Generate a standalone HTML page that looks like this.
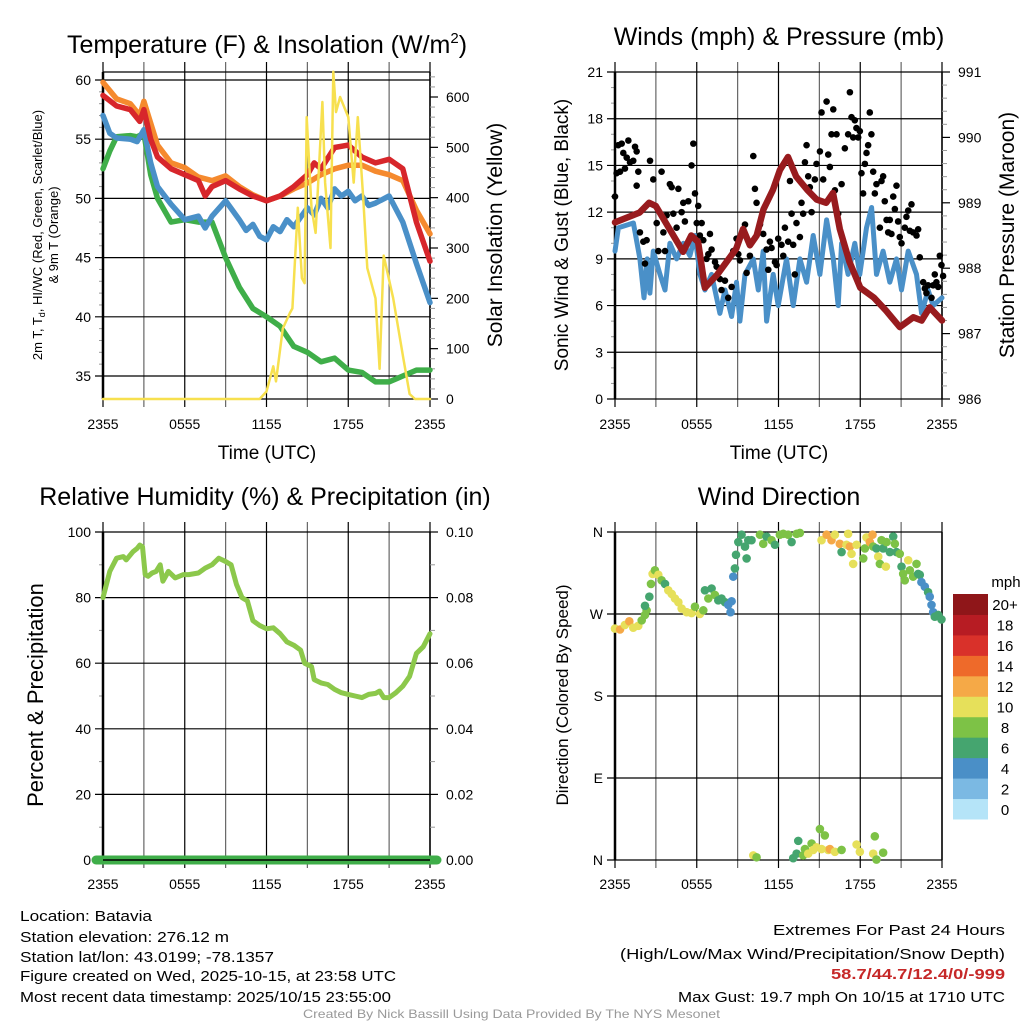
<!DOCTYPE html>
<html><head><meta charset="utf-8"><style>
html,body{margin:0;padding:0;background:#fff;}
svg{display:block;font-family:"Liberation Sans",sans-serif;}
</style></head><body>
<svg id="c" width="1024" height="1024" viewBox="0 0 1024 1024" xmlns="http://www.w3.org/2000/svg">
<g id="g"></g>
<g font-size="15" fill="#000">
<text x="20" y="921" textLength="132" lengthAdjust="spacingAndGlyphs">Location: Batavia</text>
<text x="20" y="942" textLength="209" lengthAdjust="spacingAndGlyphs">Station elevation: 276.12 m</text>
<text x="20" y="962" textLength="254" lengthAdjust="spacingAndGlyphs">Station lat/lon: 43.0199; -78.1357</text>
<text x="20" y="981" textLength="376" lengthAdjust="spacingAndGlyphs">Figure created on Wed, 2025-10-15, at 23:58 UTC</text>
<text x="20" y="1002" textLength="371" lengthAdjust="spacingAndGlyphs">Most recent data timestamp: 2025/10/15 23:55:00</text>
<text x="773" y="935" textLength="232" lengthAdjust="spacingAndGlyphs">Extremes For Past 24 Hours</text>
<text x="620" y="959" textLength="385" lengthAdjust="spacingAndGlyphs">(High/Low/Max Wind/Precipitation/Snow Depth)</text>
<text x="831" y="979" textLength="174" lengthAdjust="spacingAndGlyphs" fill="#c62828" font-weight="bold">58.7/44.7/12.4/0/-999</text>
<text x="678" y="1002" textLength="327" lengthAdjust="spacingAndGlyphs">Max Gust: 19.7 mph On 10/15 at 1710 UTC</text>
<text x="303" y="1018" font-size="12" fill="#999" textLength="417" lengthAdjust="spacingAndGlyphs">Created By Nick Bassill Using Data Provided By The NYS Mesonet</text>
</g>
</svg>
<script>
// ===== Temperature panel data (hours since 2355) =====
const redT=[0,1,2,2.7,3,3.5,4,5,6,7,7.5,8,9,10,11,12,13,14,15,15.5,16,17,18,19,20,21,22,23,24];
const redV=[58.7,57.8,57.5,56.5,57.5,55,53.5,52.5,52,51.5,50.2,51,51.5,50.8,50.2,49.8,50.2,51,52,53,52.5,54.3,54.5,53.5,53,53.3,52.5,48,44.7];
const orgT=[0,1,2,2.7,3,4,5,6,7,8,9,10,11,12,13,14,15,16,17,18,19,20,21,22,23,24];
const orgV=[59.8,58.4,58,57,58.2,54.5,53,52.6,51.8,51.5,51.9,51,50.3,49.8,50.2,50.8,51.3,52,52.5,52.8,52.8,52.3,52,51.5,49,47];
const bluT=[0,0.5,1,2,2.5,3,3.5,4,5,6,7,7.5,8,9,10,10.5,11,11.5,12,12.5,13,13.5,14,14.5,15,15.5,16,16.5,17,17.5,18,18.5,19,19.5,20,21,22,23,24];
const bluV=[57,55.5,55.1,55,54.8,55.8,53,51,49.5,48.2,48.5,47.5,48.5,49.8,48.2,47.3,47.8,46.8,46.5,47.6,47.2,48.2,47.6,48.4,49.2,48.6,50,49.2,50.8,50.2,50.6,49.8,50.2,49.4,49.6,50.2,48,44.5,41.2];
const grnT=[0,0.5,1,2,2.5,3,3.5,4,5,6,7,8,9,10,11,12,13,14,15,16,17,18,19,20,21,22,23,24];
const grnV=[52.5,54,55.2,55.3,55.2,55.5,52,50,48,48.2,48,48,45,42.5,40.7,40,39.2,37.5,37,36.2,36.5,35.5,35.3,34.5,34.5,35,35.5,35.5];
const solT=[0,11.5,12,12.5,12.7,13.2,13.7,13.9,14.3,14.6,14.8,14.95,15.3,15.6,16.1,16.3,16.7,16.9,17.1,17.4,18,18.4,18.7,19.1,19.4,20,20.3,20.6,21.3,22.05,22.5,22.9,24];
const solV=[0,0,15,65,35,140,170,180,380,240,230,560,380,330,590,430,300,650,570,600,560,430,560,400,260,200,60,285,200,80,10,0,0];
// ===== Wind/pressure data =====
const wsT=[0,0.25,1.35,1.83,2.13,2.36,2.56,2.81,3.3,3.67,4.03,4.52,5.01,5.5,5.87,6.24,6.6,7.09,7.7,8.07,8.56,8.92,9.17,9.54,10.15,10.52,10.88,11.13,11.61,11.98,12.59,13.08,13.57,14.06,14.55,15.04,15.53,16.02,16.38,16.63,17.11,17.6,17.97,18.46,18.83,19.19,19.68,20.17,20.66,21.03,21.52,22.13,22.5,22.98,23.35,24];
const wsV=[9.5,11,11.3,9,6.5,9,6.8,9.5,8,7,10,9,10,9.2,10.5,8,7,8,5.5,7,5.3,7.5,5,8,9,7,9.5,5,8,6,9,6,9,7.5,10.5,8,11.5,9,6,10,8,10,8,11,12.3,8,9.5,7.5,9,7,9.5,8,5.5,7,6,6.5];
const prT=[0,1.8,2.5,3,4,5,5.6,6.1,6.6,7.5,8.2,8.9,9.4,9.9,10.4,10.9,11.6,12.1,12.7,13.3,14.1,14.8,15.5,16,16.5,17.2,18,19,19.9,20.9,21.9,22.5,23.1,24];
const prV=[988.7,988.85,989,988.95,988.6,988.25,988.5,988.4,987.7,987.9,988.1,988.3,988.6,988.35,988.5,988.9,989.2,989.5,989.7,989.4,989.2,989.05,989,989.15,988.6,988.1,987.7,987.55,987.35,987.1,987.25,987.2,987.4,987.2];
const gustT=[0,0.12,0.24,0.37,0.49,0.61,0.73,0.86,0.98,1.1,1.34,1.47,1.59,1.71,1.59,1.83,2.08,2.32,2.2,2.57,2.81,3.06,3.18,3.42,3.55,3.67,3.79,4.03,4.16,4.28,4.52,4.65,4.89,5.01,5.13,5.38,5.62,5.75,5.87,6,6.11,6.23,6.36,6.48,6.72,6.85,6.97,7.09,7.34,7.46,7.7,7.82,8.07,8.31,8.56,8.68,8.92,9.05,9.17,9.29,9.54,9.66,9.9,10.15,10.27,10.39,10.64,10.88,11.12,11.25,11.37,11.49,11.74,11.86,11.98,12.22,12.35,12.47,12.71,12.84,12.96,13.08,13.2,13.32,13.57,13.69,13.81,13.94,14.06,14.18,14.3,14.43,14.67,14.79,15.04,15.16,15.28,15.53,15.65,15.77,15.89,16.02,16.14,16.26,16.38,16.63,16.87,17.11,17.24,17.36,17.48,17.6,17.72,17.85,17.97,18.09,18.21,18.34,18.46,18.58,18.7,18.82,18.95,19.07,19.19,19.44,19.56,19.68,19.8,19.93,20.05,20.17,20.29,20.42,20.54,20.66,20.78,20.9,21.03,21.27,21.39,21.52,21.64,21.76,21.88,22.13,22.25,22.37,22.62,22.74,22.86,22.98,23.23,23.35,23.47,23.59,23.72,23.84,23.96,24.08];
const gustV=[13,14.5,16.3,14.6,16.4,15.8,14.8,15.5,16.6,15.2,15.3,16.2,15.9,14.6,13.7,10.7,10.1,10.2,8.7,15.3,14.1,11.3,9.5,14.6,10.7,9.5,11.8,13.8,13.6,11.9,11,13.5,12,12.6,11.4,12.7,15,16.4,13.2,11.3,12.4,10.5,11.3,10.2,9,9.3,10.6,9.6,8.8,8.5,7.7,7,7.6,6.5,7.2,9.5,10.3,9.3,8.9,10.5,11.2,8.1,9.2,15.6,13.5,12.6,11.2,10.6,9.6,8.3,10.1,9.7,8.8,8.6,10.3,9.9,9.2,11,10.1,14,11.9,9.9,8,11.3,10.4,12.6,11.9,15.2,16.3,14.3,13.6,12,14.1,15.1,15.9,18.4,14.1,19.1,15.7,14.9,17,18.6,13.4,17,11.9,13.8,16.1,17,19.7,18.1,16.8,17.9,17.4,16.8,17.2,14.5,13.2,15.1,15.8,16.3,18.4,17,14.6,13.2,13.8,11,14,14.3,12.7,11.5,10.7,11.5,10.6,13,12.2,13.7,11.4,10.4,10,11,11.7,12.1,10.8,12.5,10.7,10.5,10.9,9.1,7.5,7.1,6.8,7.3,6.5,7.3,8,7.5,7.2,9.2,8.6,7.9];
// ===== RH data =====
const rhT=[0,0.5,1,1.5,1.7,2.2,2.5,2.7,2.9,3.1,3.3,3.6,3.9,4.2,4.4,4.8,5.3,5.9,6.3,7,7.5,8,8.5,9,9.4,9.8,10.2,10.6,11,11.5,12,12.5,13,13.5,14,14.5,14.8,15.3,15.5,16,16.5,17,17.5,18,18.5,19,19.5,20,20.3,20.6,21,21.5,22,22.5,23,23.5,24];
const rhV=[80,88,92,92.5,91.5,94,95,96,95.5,87,86.5,87.5,88,90,85,88,86,87,87,87.5,89,90,92,91,90,84,80,79,73,71.5,70.5,70.8,69,66.5,65.5,64,60,59,55,54,53.5,52,51,50.5,50,49.5,50.5,50.8,51.5,49.5,49.5,51,53,56,63,65,69];
const prcT=[0,24];
const prcV=[0,0];
// ===== Wind direction data =====
const wdT=[0,0.37,0.73,1.05,1.34,1.71,1.96,2.2,2.32,2.2,2.52,2.64,2.76,2.93,3.18,3.42,3.67,3.91,4.16,4.4,4.65,4.89,5.26,5.62,5.87,6.23,6.48,6.6,6.85,7.09,7.33,7.58,7.82,8.07,8.31,8.48,8.56,8.68,8.8,8.88,9.05,9.29,9.54,9.66,9.78,10.02,10.64,10.88,11.12,11.49,11.74,12.1,12.35,12.71,12.96,13.33,13.57,15.16,15.53,15.89,16.14,16.5,16.63,16.99,17.11,17.24,17.36,17.48,17.73,18.22,18.34,18.46,18.7,18.9,18.95,19.19,19.32,19.44,19.56,19.68,19.88,19.93,20.17,20.42,20.54,20.66,20.9,21.03,21.15,21.27,21.52,21.64,21.88,22.13,22.25,22.37,22.49,22.74,22.98,23.1,23.23,23.35,23.47,23.72,23.96,10.15,10.39,13.08,13.33,13.45,13.81,13.94,14.18,14.43,14.55,14.79,15.04,15.16,15.4,15.65,15.77,16.14,16.63,17.73,17.97,18.95,19.07,19.19,19.68];
const wdDir=[254,253,258,262,255,257,263,269,274,279,289,303,314,318,313,307,303,296,292,287,283,276,272,271,278,270,274,296,287,298,291,285,287,283,280,272,284,311,320,335,349,357,344,331,351,351,357,347,355,351,346,357,358,357,349,358,359,351,357,351,357,347,338,346,358,344,336,325,346,331,342,354,349,357,344,342,333,325,351,342,322,349,338,355,347,338,336,322,314,307,329,318,311,325,314,313,305,300,294,289,280,272,267,269,264,5,3,2,7,21,5,12,7,18,11,14,34,12,27,11,12,9,11,17,9,7,26,0.5,8];
const wdSpd=[11,13,11,13,11,11,9,9,9,7,7,9,11,9,11,9,7,11,11,11,11,11,11,11,9,11,9,7,9,7,9,7,7,7,5,5,5,5,7,7,7,7,7,7,7,7,9,9,7,9,7,9,9,9,7,9,9,11,13,13,11,13,7,11,11,13,11,11,11,9,9,11,13,13,9,7,11,9,9,7,11,9,7,7,9,7,9,7,9,9,11,9,9,9,7,7,5,5,7,5,5,5,7,7,7,11,9,7,7,7,9,9,11,9,11,11,9,11,9,11,13,11,9,11,11,11,9,9,9];
const spdColors=["#b5e4f8","#7bb9e3","#4a8fc7","#45a56f","#7dc246","#e6e05a","#f5a947","#ee6a2a","#d9312a","#b71c23","#8f1619"];
const spdLabels=["0","2","4","6","8","10","12","14","16","18","20+"];
const xTickLabels=["2355","0555","1155","1755","2355"];

const NS="http://www.w3.org/2000/svg";
const G=document.getElementById('g');
function el(tag,attrs,parent){const e=document.createElementNS(NS,tag);for(const k in attrs)e.setAttribute(k,attrs[k]);(parent||G).appendChild(e);return e;}
function txt(s,attrs,parent){const e=el('text',attrs,parent);e.textContent=s;return e;}
function lin(d0,d1,r0,r1){return v=>r0+(v-d0)/(d1-d0)*(r1-r0);}

function panel(px,top,bottom,name){
  const x=lin(0,24,px,px+327);
  const grp=el('g',{});
  
  
  for(let h=0;h<=24;h+=3){
    const gl=el('line',{x1:x(h),x2:x(h),y1:top-10,y2:bottom+8,stroke:(h%6===0)?'#000':'#666','stroke-width':1.2},grp);
    
    
  }
  return {x,grp};
}

function leftAxis(grp,px,y,ticks,labels,minor,top,bottom){
  ticks.forEach((t,i)=>{
    const l=el('line',{x1:px-8,x2:px+327,y1:y(t),y2:y(t),stroke:'#000','stroke-width':1.2},grp);
    
    
    const tl=txt(labels[i],{x:px-12,y:y(t)+5,'text-anchor':'end','font-size':14},grp);
    
    
  });
  minor.forEach(t=>{el('line',{x1:px-4,x2:px,y1:y(t),y2:y(t),stroke:'#999','stroke-width':1},grp);});
  el('line',{x1:px,x2:px,y1:top,y2:bottom,stroke:'#000','stroke-width':2.5},grp);
  el('line',{x1:px+327,x2:px+327,y1:top,y2:bottom,stroke:'#000','stroke-width':1.5},grp);
}
function rightTicks(grp,px,y,ticks,labels,minor){
  ticks.forEach((t,i)=>{
    el('line',{x1:px+327,x2:px+335,y1:y(t),y2:y(t),stroke:'#000','stroke-width':1.2},grp);
    const tl=txt(labels[i],{x:px+343,y:y(t)+5,'font-size':14},grp);
    
    
  });
  minor.forEach(t=>{el('line',{x1:px+327,x2:px+332,y1:y(t),y2:y(t),stroke:'#999','stroke-width':1},grp);});
}
function xLabels(grp,x,yb){
  xTickLabels.forEach((s,i)=>{
    const tl=txt(s,{x:x(i*6),y:yb,'text-anchor':'middle','font-size':14},grp);
    
    
  });
}
function vtitle(s,cx,cy,size,name,rot){
  const t=txt(s,{x:0,y:0,transform:`translate(${cx},${cy}) rotate(${rot||-90})`,'text-anchor':'middle','font-size':size});
  
  
  return t;
}
function title(s,cx,y,name){
  const t=txt(s,{x:cx,y:y,'text-anchor':'middle','font-size':25});
  
  
  return t;
}
function poly(ts,vs,x,y,color,w,name,grp){
  const p=el('polyline',{points:ts.map((t,i)=>x(t).toFixed(1)+','+y(vs[i]).toFixed(1)).join(' '),fill:'none',stroke:color,'stroke-width':w,'stroke-linejoin':'round','stroke-linecap':'round'},grp);
  
  
  return p;
}

// ---------- Panel 1: temperature ----------
{
  const {x,grp}=panel(103,72,399,'temperature');
  const y=lin(60,35,80,376);
  const yS=lin(0,600,399,97);
  el('line',{x1:103,x2:430,y1:72,y2:72,stroke:'#000','stroke-width':1.2},grp);
  leftAxis(grp,103,y,[35,40,45,50,55,60],['35','40','45','50','55','60'],[36,37,38,39,41,42,43,44,46,47,48,49,51,52,53,54,56,57,58,59],72,399);
  rightTicks(grp,103,yS,[0,100,200,300,400,500,600],['0','100','200','300','400','500','600'],[20,40,60,80,120,140,160,180,220,240,260,280,320,340,360,380,420,440,460,480,520,540,560,580,620,640]);
  el('line',{x1:103,x2:430,y1:399,y2:399,stroke:'#000','stroke-width':1.2},grp);
  poly(grnT,grnV,x,y,'#3fae49',5.5,'dewpoint-line',grp);
  poly(bluT,bluV,x,y,'#4a90c8',5.5,'heat-index-wind-chill-line',grp);
  poly(orgT,orgV,x,y,'#f58a2e',5.5,'temp-9m-line',grp);
  poly(redT,redV,x,y,'#d7262b',5.5,'temp-2m-line',grp);
  poly(solT,solV,x,yS,'#f7e04f',2.5,'solar-insolation-line',grp);
  xLabels(grp,x,429);
  const tt=txt('',{x:267,y:53,'text-anchor':'middle','font-size':25});
  
  
  tt.innerHTML='Temperature (F) &amp; Insolation (W/m<tspan dy="-10" font-size="15">2</tspan><tspan dy="10">)</tspan>';
  const xt=txt('Time (UTC)',{x:267,y:459,'text-anchor':'middle','font-size':19});
  
  
  const lt=txt('',{x:0,y:0,transform:'translate(42,235) rotate(-90)','text-anchor':'middle','font-size':13});
  
  
  lt.innerHTML='2m T, T<tspan dy="3" font-size="9">d</tspan><tspan dy="-3">, HI/WC (Red, Green, Scarlet/Blue)</tspan>';
  vtitle('& 9m T (Orange)',58,235,13,'temperature-y-axis-title-line2');
  vtitle('Solar Insolation (Yellow)',502,235,21,'solar-y-axis-title',-90);
}
// ---------- Panel 2: winds ----------
{
  const {x,grp}=panel(615,72,399,'winds');
  const y=lin(0,21,399,72);
  const yP=lin(986,991,399,72);
  leftAxis(grp,615,y,[0,3,6,9,12,15,18,21],['0','3','6','9','12','15','18','21'],[1,2,4,5,7,8,10,11,13,14,16,17,19,20],72,399);
  rightTicks(grp,615,yP,[986,987,988,989,990,991],['986','987','988','989','990','991'],[986.2,986.4,986.6,986.8,987.2,987.4,987.6,987.8,988.2,988.4,988.6,988.8,989.2,989.4,989.6,989.8,990.2,990.4,990.6,990.8]);
  poly(wsT,wsV,x,y,'#4a90c8',5,'sonic-wind-line',grp);
  gustT.forEach((t,i)=>{
    const c=el('circle',{cx:x(t),cy:y(gustV[i]),r:3.3,fill:'#000'},grp);
    
    
  });
  poly(prT,prV,x,yP,'#981b1e',6.5,'pressure-line',grp);
  xLabels(grp,x,429);
  title('Winds (mph) & Pressure (mb)',779,45,'winds-title');
  const xt=txt('Time (UTC)',{x:779,y:459,'text-anchor':'middle','font-size':19});
  
  
  vtitle('Sonic Wind & Gust (Blue, Black)',568,235,19,'wind-y-axis-title');
  vtitle('Station Pressure (Maroon)',1014,235,21,'pressure-y-axis-title');
}
// ---------- Panel 3: RH ----------
{
  const {x,grp}=panel(103,532,860,'humidity');
  const y=lin(0,100,860,532);
  const yP=lin(0,0.1,860,532);
  leftAxis(grp,103,y,[0,20,40,60,80,100],['0','20','40','60','80','100'],[10,30,50,70,90],532,860);
  rightTicks(grp,103,yP,[0,0.02,0.04,0.06,0.08,0.1],['0.00','0.02','0.04','0.06','0.08','0.10'],[0.01,0.03,0.05,0.07,0.09]);
  poly(rhT,rhV,x,y,'#8cc84b',5,'relative-humidity-line',grp);
  const pl=el('line',{x1:x(prcT[0])-7,x2:x(prcT[1])+7,y1:yP(prcV[0]),y2:yP(prcV[1]),stroke:'#3fae49','stroke-width':9,'stroke-linecap':'round'},grp);
  
  
  el('line',{x1:103,x2:430,y1:860,y2:860,stroke:'#000','stroke-width':1.5},grp);
  xLabels(grp,x,889);
  title('Relative Humidity (%) & Precipitation (in)',265,505,'humidity-title');
  vtitle('Percent & Precipitation',43,695,22,'humidity-y-axis-title');
}
// ---------- Panel 4: wind direction ----------
{
  const {x,grp}=panel(615,532,860,'wind-direction');
  const y=lin(0,360,860,532);
  leftAxis(grp,615,y,[0,90,180,270,360],['N','E','S','W','N'],[],532,860);
  const cbin=s=>spdColors[Math.min(10,Math.floor(s/2))];
  wdT.forEach((t,i)=>{
    const c=el('circle',{cx:x(t),cy:y(wdDir[i]),r:4.3,fill:cbin(wdSpd[i])},grp);
    
    
  });
  xLabels(grp,x,889);
  title('Wind Direction',779,505,'wind-direction-title');
  vtitle('Direction (Colored By Speed)',568,695,17,'direction-y-axis-title');
  const lg=el('g',{});
  
  
  const ly=lin(0,11,819,594);
  spdColors.forEach((c,i)=>{
    const r=el('rect',{x:953,y:ly(i+1),width:35,height:ly(i)-ly(i+1)+0.5,fill:c},lg);
    
    
    const t=txt(spdLabels[i],{x:1005,y:(ly(i)+ly(i+1))/2+6,'text-anchor':'middle','font-size':15},lg);
    
    
  });
  const u=txt('mph',{x:1006,y:587,'text-anchor':'middle','font-size':15},lg);
  
  
}
</script>
</body></html>
